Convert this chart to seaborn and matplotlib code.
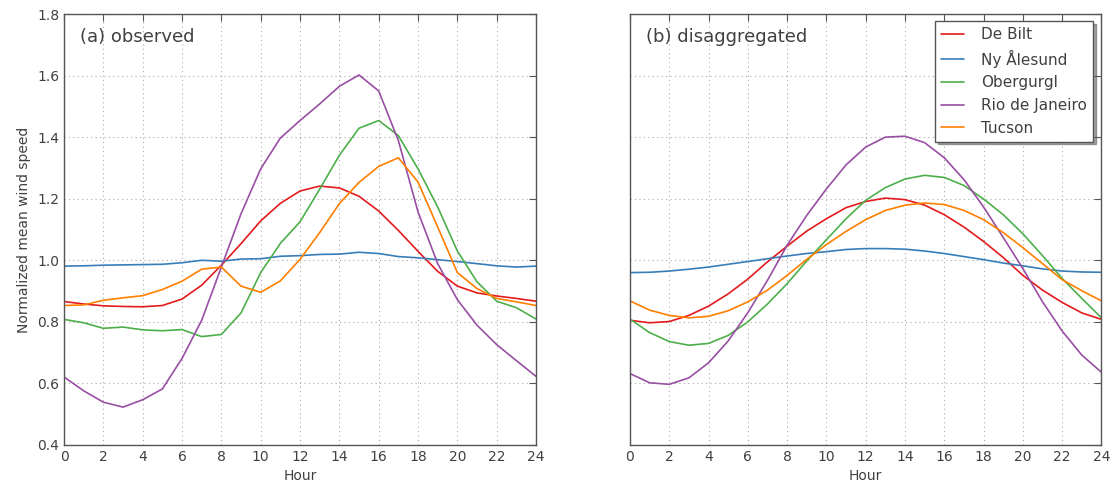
import numpy as np
import pandas as pd
import matplotlib
matplotlib.use("Agg")
import matplotlib.pyplot as plt
import seaborn as sns

# hours of the day
hours = list(range(25))
stations = ['De Bilt', 'Ny Ålesund', 'Obergurgl', 'Rio de Janeiro', 'Tucson']
colors = ['#e41a1c', '#377eb8', '#4daf4a', '#984ea3', '#ff7f00']

# (a) observed
obs_debilt = [0.866, 0.858, 0.852, 0.850, 0.849, 0.853, 0.874, 0.919, 0.984, 1.054, 1.128, 1.185, 1.225,
              1.241, 1.235, 1.208, 1.160, 1.097, 1.029, 0.964, 0.916, 0.894, 0.884, 0.876, 0.867]
obs_nyalesund = [0.981, 0.982, 0.984, 0.985, 0.986, 0.987, 0.992, 1.000, 0.997, 1.004, 1.005, 1.013, 1.015,
                 1.019, 1.020, 1.026, 1.022, 1.012, 1.008, 1.002, 0.996, 0.989, 0.982, 0.978, 0.981]
obs_obergurgl = [0.808, 0.797, 0.779, 0.783, 0.774, 0.771, 0.775, 0.752, 0.759, 0.829, 0.960, 1.055, 1.125,
                 1.231, 1.341, 1.429, 1.454, 1.405, 1.297, 1.173, 1.030, 0.930, 0.867, 0.846, 0.809]
obs_rio = [0.621, 0.576, 0.539, 0.523, 0.547, 0.582, 0.681, 0.805, 0.978, 1.151, 1.297, 1.397, 1.454,
           1.508, 1.565, 1.602, 1.550, 1.389, 1.157, 0.989, 0.872, 0.789, 0.726, 0.674, 0.623]
obs_tucson = [0.853, 0.855, 0.870, 0.878, 0.885, 0.905, 0.932, 0.971, 0.978, 0.916, 0.896, 0.933, 1.003,
              1.090, 1.184, 1.253, 1.305, 1.333, 1.254, 1.108, 0.960, 0.908, 0.876, 0.865, 0.853]

# (b) disaggregated
dis_debilt = [0.805, 0.797, 0.801, 0.821, 0.851, 0.891, 0.939, 0.995, 1.046, 1.095, 1.135, 1.171, 1.191,
              1.202, 1.197, 1.179, 1.148, 1.108, 1.061, 1.009, 0.951, 0.903, 0.863, 0.829, 0.808]
dis_nyalesund = [0.960, 0.961, 0.965, 0.971, 0.978, 0.987, 0.996, 1.005, 1.014, 1.022, 1.028, 1.035, 1.038,
                 1.038, 1.036, 1.030, 1.022, 1.012, 1.002, 0.991, 0.982, 0.972, 0.965, 0.962, 0.961]
dis_obergurgl = [0.809, 0.765, 0.736, 0.724, 0.730, 0.756, 0.800, 0.858, 0.924, 0.998, 1.067, 1.135, 1.195,
                 1.236, 1.264, 1.276, 1.269, 1.243, 1.199, 1.148, 1.086, 1.015, 0.941, 0.876, 0.813]
dis_rio = [0.632, 0.602, 0.597, 0.618, 0.667, 0.738, 0.830, 0.935, 1.049, 1.146, 1.232, 1.310, 1.368,
           1.400, 1.403, 1.382, 1.333, 1.262, 1.173, 1.074, 0.973, 0.865, 0.770, 0.692, 0.636]
dis_tucson = [0.868, 0.838, 0.821, 0.813, 0.818, 0.836, 0.865, 0.903, 0.951, 1.003, 1.051, 1.094, 1.132,
              1.162, 1.179, 1.186, 1.181, 1.162, 1.132, 1.090, 1.041, 0.989, 0.937, 0.901, 0.868]


def make_df(series):
    frames = []
    for name, vals in zip(stations, series):
        frames.append(pd.DataFrame({'Hour': hours, 'speed': vals, 'Station': name}))
    return pd.concat(frames, ignore_index=True)


df_obs = make_df([obs_debilt, obs_nyalesund, obs_obergurgl, obs_rio, obs_tucson])
df_dis = make_df([dis_debilt, dis_nyalesund, dis_obergurgl, dis_rio, dis_tucson])

sns.set_style('white')
plt.rcParams['font.family'] = ['DejaVu Sans']
txt = '#404040'
plt.rcParams.update({'text.color': txt, 'axes.labelcolor': txt,
                     'xtick.color': '#555555', 'ytick.color': '#555555'})

fig = plt.figure(figsize=(11.17, 4.93), dpi=100)
ax1 = fig.add_axes([0.0573, 0.0974, 0.4226, 0.8742])
ax2 = fig.add_axes([0.5640, 0.0974, 0.4221, 0.8742])

palette = dict(zip(stations, colors))
sns.lineplot(data=df_obs, x='Hour', y='speed', hue='Station', palette=palette, ax=ax1, linewidth=1.2, legend=False)
sns.lineplot(data=df_dis, x='Hour', y='speed', hue='Station', palette=palette, ax=ax2, linewidth=1.2)

for ax, title in [(ax1, '(a) observed'), (ax2, '(b) disaggregated')]:
    ax.set_xlim(0, 24)
    ax.set_ylim(0.4, 1.8)
    ax.set_xticks(range(0, 25, 2))
    ax.set_yticks(np.arange(0.4, 1.81, 0.2))
    ax.grid(True, linestyle=(0, (1, 3)), color='#aaaaaa', linewidth=0.8)
    ax.tick_params(direction='in', top=True, right=True, length=5, width=0.8,
                   labelsize=10, labelcolor=txt)
    for s in ax.spines.values():
        s.set_color('#555555')
        s.set_linewidth(1.0)
    ax.set_xlabel('Hour', fontsize=10)
    ax.text(0.034, 0.947, title, transform=ax.transAxes, fontsize=13, va='center', ha='left')

ax1.set_ylabel('Normalized mean wind speed', fontsize=10)
ax1.set_yticklabels([f'{v:.1f}' for v in np.arange(0.4, 1.81, 0.2)])
ax2.set_ylabel('')
ax2.set_yticklabels([])

leg = ax2.legend(loc='upper right', fontsize=11, frameon=True, fancybox=False, shadow=True,
                 borderpad=0.4, labelspacing=0.5, handlelength=1.5, handletextpad=1.1,
                 borderaxespad=0, bbox_to_anchor=(0.982, 0.984))
leg.get_frame().set_edgecolor('#555555')
leg.get_frame().set_linewidth(1.0)

plt.savefig('out.png', dpi=100)
